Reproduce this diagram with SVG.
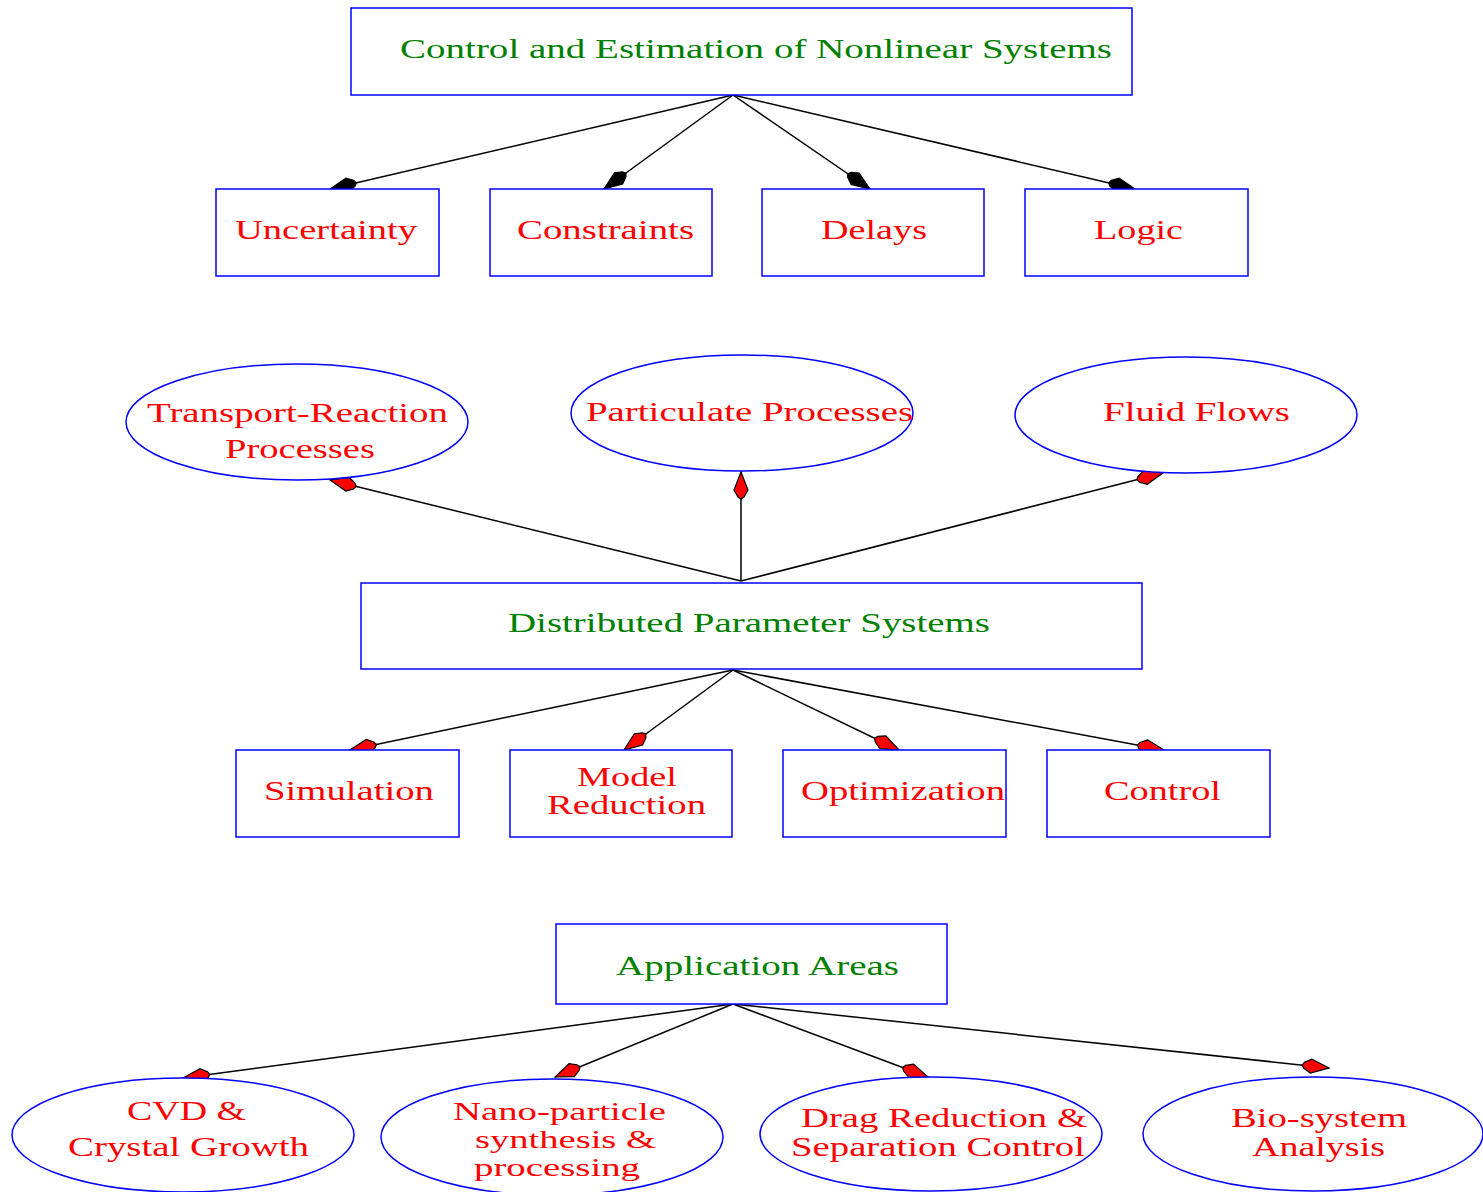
<svg xmlns="http://www.w3.org/2000/svg" width="1483" height="1192" viewBox="0 0 1483 1192">
<style>
.box{fill:#fff;stroke:#0000ff;stroke-width:1.5}
.ell{fill:#fff;stroke:#0000ff;stroke-width:1.5}
.t{font-family:"Liberation Serif","Times New Roman",serif;font-size:28px;text-anchor:start}
.s{font-size:25px}
.g{fill:#008000}
.r{fill:#ff0000}
.e{stroke:#000;stroke-width:1.5;fill:none}
</style>
<defs>
<marker id="hb" markerUnits="userSpaceOnUse" orient="auto" viewBox="-30 -10 32 20" refX="0" refY="0" markerWidth="32" markerHeight="20">
<path d="M0,0 L-18,-7 L-25,-3 L-27,0 L-25,3 L-18,7 Z" fill="#000" stroke="#000" stroke-width="1.2"/>
</marker>
<marker id="hr" markerUnits="userSpaceOnUse" orient="auto" viewBox="-30 -10 32 20" refX="0" refY="0" markerWidth="32" markerHeight="20">
<path d="M0,0 L-18,-7 L-25,-3 L-27,0 L-25,3 L-18,7 Z" fill="#ff0000" stroke="#000" stroke-width="1.2"/>
</marker>
</defs>
<rect width="1483" height="1192" fill="#fff"/>
<g id="connectors">
<line class="e" x1="733" y1="95" x2="330" y2="189" marker-end="url(#hb)"/>
<line class="e" x1="733" y1="95" x2="604" y2="189" marker-end="url(#hb)"/>
<line class="e" x1="733" y1="95" x2="870" y2="189" marker-end="url(#hb)"/>
<line class="e" x1="733" y1="95" x2="1135" y2="189" marker-end="url(#hb)"/>
<line class="e" x1="741" y1="581" x2="330" y2="480" marker-end="url(#hr)"/>
<line class="e" x1="741" y1="581" x2="741" y2="472" marker-end="url(#hr)"/>
<line class="e" x1="741" y1="581" x2="1163" y2="473" marker-end="url(#hr)"/>
<line class="e" x1="733" y1="670" x2="350" y2="750" marker-end="url(#hr)"/>
<line class="e" x1="733" y1="670" x2="624" y2="750" marker-end="url(#hr)"/>
<line class="e" x1="733" y1="670" x2="899" y2="750" marker-end="url(#hr)"/>
<line class="e" x1="733" y1="670" x2="1164" y2="750" marker-end="url(#hr)"/>
<line class="e" x1="733" y1="1004" x2="183" y2="1078" marker-end="url(#hr)"/>
<line class="e" x1="733" y1="1004" x2="555" y2="1077" marker-end="url(#hr)"/>
<line class="e" x1="733" y1="1004" x2="928" y2="1077" marker-end="url(#hr)"/>
<line class="e" x1="733" y1="1004" x2="1329" y2="1068" marker-end="url(#hr)"/>
</g>
<g id="n_control">
<rect class="box" x="351" y="8" width="781" height="87"/>
<text class="t g" x="400" y="58" textLength="712" lengthAdjust="spacingAndGlyphs">Control and Estimation of Nonlinear Systems</text>
</g>
<g id="n_uncertainty">
<rect class="box" x="216" y="189" width="223" height="87"/>
<text class="t r" x="235" y="239" textLength="182" lengthAdjust="spacingAndGlyphs">Uncertainty</text>
</g>
<g id="n_constraints">
<rect class="box" x="490" y="189" width="222" height="87"/>
<text class="t r" x="517" y="239" textLength="177" lengthAdjust="spacingAndGlyphs">Constraints</text>
</g>
<g id="n_delays">
<rect class="box" x="762" y="189" width="222" height="87"/>
<text class="t r" x="821" y="239" textLength="106" lengthAdjust="spacingAndGlyphs">Delays</text>
</g>
<g id="n_logic">
<rect class="box" x="1025" y="189" width="223" height="87"/>
<text class="t r" x="1094" y="239" textLength="89" lengthAdjust="spacingAndGlyphs">Logic</text>
</g>
<g id="n_transport">
<ellipse class="ell" cx="297" cy="422" rx="171" ry="58"/>
<text class="t r" x="147" y="422" textLength="301" lengthAdjust="spacingAndGlyphs">Transport-Reaction</text>
<text class="t r" x="225" y="458" textLength="150" lengthAdjust="spacingAndGlyphs">Processes</text>
</g>
<g id="n_particulate">
<ellipse class="ell" cx="742" cy="413" rx="171" ry="58"/>
<text class="t r" x="586" y="421" textLength="327" lengthAdjust="spacingAndGlyphs">Particulate Processes</text>
</g>
<g id="n_fluid">
<ellipse class="ell" cx="1186" cy="415" rx="171" ry="58"/>
<text class="t r" x="1103" y="421" textLength="187" lengthAdjust="spacingAndGlyphs">Fluid Flows</text>
</g>
<g id="n_dps">
<rect class="box" x="361" y="583" width="781" height="86"/>
<text class="t g" x="508" y="632" textLength="482" lengthAdjust="spacingAndGlyphs">Distributed Parameter Systems</text>
</g>
<g id="n_simulation">
<rect class="box" x="236" y="750" width="223" height="87"/>
<text class="t r" x="264" y="800" textLength="170" lengthAdjust="spacingAndGlyphs">Simulation</text>
</g>
<g id="n_model">
<rect class="box" x="510" y="750" width="222" height="87"/>
<text class="t r" x="577" y="786" textLength="100" lengthAdjust="spacingAndGlyphs">Model</text>
<text class="t r" x="547" y="814" textLength="159" lengthAdjust="spacingAndGlyphs">Reduction</text>
</g>
<g id="n_optimization">
<rect class="box" x="783" y="750" width="223" height="87"/>
<text class="t r" x="801" y="800" textLength="204" lengthAdjust="spacingAndGlyphs">Optimization</text>
</g>
<g id="n_controlnode">
<rect class="box" x="1047" y="750" width="223" height="87"/>
<text class="t r" x="1104" y="800" textLength="117" lengthAdjust="spacingAndGlyphs">Control</text>
</g>
<g id="n_app">
<rect class="box" x="556" y="924" width="391" height="80"/>
<text class="t g" x="616" y="975" textLength="283" lengthAdjust="spacingAndGlyphs">Application Areas</text>
</g>
<g id="n_cvd">
<ellipse class="ell" cx="183" cy="1135" rx="171" ry="57"/>
<text class="t r" x="127" y="1120" textLength="119" lengthAdjust="spacingAndGlyphs">CVD &amp;</text>
<text class="t r" x="68" y="1156" textLength="241" lengthAdjust="spacingAndGlyphs">Crystal Growth</text>
</g>
<g id="n_nano">
<ellipse class="ell" cx="552" cy="1137" rx="171" ry="58"/>
<text class="t s r" x="453" y="1120" textLength="213" lengthAdjust="spacingAndGlyphs">Nano-particle</text>
<text class="t s r" x="475" y="1148" textLength="181" lengthAdjust="spacingAndGlyphs">synthesis &amp;</text>
<text class="t s r" x="474" y="1176" textLength="166" lengthAdjust="spacingAndGlyphs">processing</text>
</g>
<g id="n_drag">
<ellipse class="ell" cx="931" cy="1134" rx="171" ry="57"/>
<text class="t r" x="801" y="1127" textLength="286" lengthAdjust="spacingAndGlyphs">Drag Reduction &amp;</text>
<text class="t r" x="791" y="1156" textLength="294" lengthAdjust="spacingAndGlyphs">Separation Control</text>
</g>
<g id="n_bio">
<ellipse class="ell" cx="1313" cy="1134" rx="170" ry="57"/>
<text class="t r" x="1231" y="1127" textLength="176" lengthAdjust="spacingAndGlyphs">Bio-system</text>
<text class="t r" x="1252" y="1156" textLength="133" lengthAdjust="spacingAndGlyphs">Analysis</text>
</g>
</svg>
